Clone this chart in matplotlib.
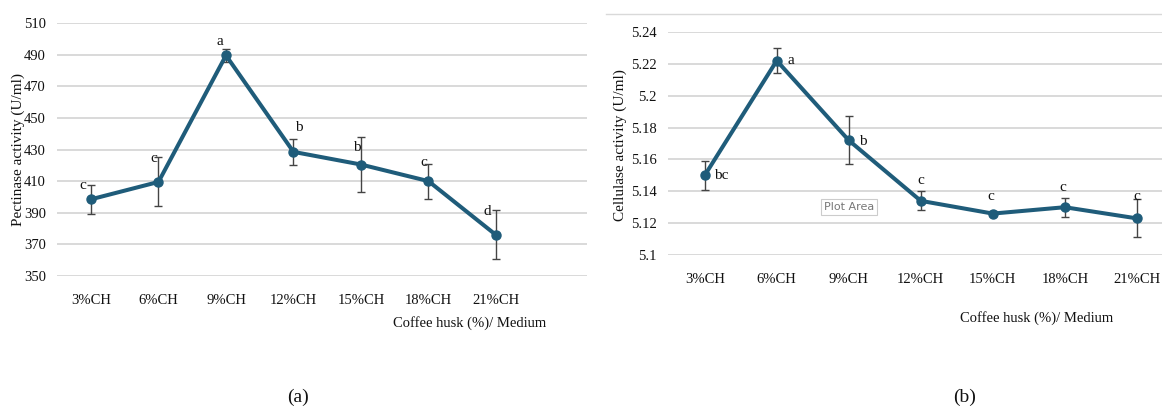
import matplotlib.pyplot as plt
from matplotlib.lines import Line2D
import numpy as np

plt.rcParams['font.family'] = ['Liberation Serif', 'DejaVu Serif']

# data
categories = ['3%CH', '6%CH', '9%CH', '12%CH', '15%CH', '18%CH', '21%CH']

pectinase = [398.5, 409.5, 489.5, 428.5, 420.5, 410, 376]
pectinase_err = [9, 15.5, 4, 8, 17.5, 11, 15.5]
pectinase_letters = ['c', 'c', 'a', 'b', 'b', 'c', 'd']

cellulase = [5.150, 5.222, 5.172, 5.134, 5.126, 5.130, 5.123]
cellulase_err = [0.009, 0.008, 0.015, 0.006, 0.0015, 0.006, 0.012]
cellulase_letters = ['bc', 'a', 'b', 'c', 'c', 'c', 'c']

pectinase_ticks = [350, 370, 390, 410, 430, 450, 470, 490, 510]
cellulase_ticks = [5.1, 5.12, 5.14, 5.16, 5.18, 5.2, 5.22, 5.24]
cellulase_ticklabels = ['5.1', '5.12', '5.14', '5.16', '5.18', '5.2', '5.22', '5.24']

# letter offsets in pixels (dx, dy) from the mean point
offsets_a = [(-8, 14), (-5, 23), (-6, 14), (5, 24), (-4, 17), (-5, 19), (-9, 23)]
offsets_b = [(17, 0), (14, 0), (14, -1), (0, 20), (-2, 17), (-2, 20), (0, 22)]

W, H = 1162, 411
line_color = '#1f5c7a'
grid_color = '#d9d9d9'
text_color = '#111111'

fig = plt.figure(figsize=(W / 100, H / 100), dpi=100)


def px_axes(x0, y0, x1, y1):
    # pixel box (top-left origin) -> figure axes
    return fig.add_axes([x0 / W, 1 - y1 / H, (x1 - x0) / W, (y1 - y0) / H])


def draw_panel(ax, values, errs, letters, offsets, yticks, yticklabels, xlim, ylim):
    x = np.arange(len(categories))
    ax.set_xlim(*xlim)
    ax.set_ylim(*ylim)
    ax.set_yticks(yticks)
    ax.set_yticklabels(yticklabels)
    ax.set_xticks(x)
    ax.set_xticklabels(categories)
    ax.tick_params(length=0, labelsize=10.5, colors=text_color)
    ax.tick_params(axis='y', pad=8)
    ax.tick_params(axis='x', pad=13)
    for s in ax.spines.values():
        s.set_visible(False)
    ax.grid(axis='y', color=grid_color, linewidth=1.4)
    ax.set_axisbelow(True)
    ax.errorbar(x, values, yerr=errs, fmt='none', ecolor='#444444',
                elinewidth=1.0, capsize=3, capthick=1.0, zorder=2, clip_on=False)
    ax.plot(x, values, color=line_color, linewidth=2.9, marker='o',
            markersize=6.5, zorder=3, clip_on=False)
    for xi, v, lab, (dx, dy) in zip(x, values, letters, offsets):
        ax.annotate(lab, (xi, v), xytext=(dx * 0.72, dy * 0.72),
                    textcoords='offset points', ha='center', va='center',
                    fontsize=11, color=text_color)


ax1 = px_axes(57, 23, 587, 276)
draw_panel(ax1, pectinase, pectinase_err, pectinase_letters, offsets_a,
           pectinase_ticks, [str(t) for t in pectinase_ticks],
           (-0.504, 7.35), (350, 510))

ax2 = px_axes(668, 32, 1162, 255)
draw_panel(ax2, cellulase, cellulase_err, cellulase_letters, offsets_b,
           cellulase_ticks, cellulase_ticklabels,
           (-0.51, 6.35), (5.1, 5.24))

# axis titles
fig.text(18 / W, 1 - 150 / H, 'Pectinase activity (U/ml)', rotation=90,
         ha='center', va='center', fontsize=11, color=text_color)
fig.text(620 / W, 1 - 145 / H, 'Cellulase activity (U/ml)', rotation=90,
         ha='center', va='center', fontsize=11, color=text_color)
fig.text(470 / W, 1 - 323 / H, 'Coffee husk (%)/ Medium',
         ha='center', va='center', fontsize=10.5, color=text_color)
fig.text(1037 / W, 1 - 318 / H, 'Coffee husk (%)/ Medium',
         ha='center', va='center', fontsize=10.5, color=text_color)

# panel letters
fig.text(298 / W, 1 - 397 / H, '(a)', ha='center', va='center', fontsize=14,
         color=text_color)
fig.text(965 / W, 1 - 397 / H, '(b)', ha='center', va='center', fontsize=14,
         color=text_color)

# chart border top of panel (b)
fig.add_artist(Line2D([606 / W, 1], [1 - 14 / H, 1 - 14 / H],
                      color=grid_color, linewidth=1.0))

# "Plot Area" tooltip
fig.text(849 / W, 1 - 207 / H, 'Plot Area', ha='center', va='center',
         fontsize=8, family='DejaVu Sans', color='#777777',
         bbox=dict(boxstyle='square,pad=0.3', facecolor='white',
                   edgecolor='#cccccc', linewidth=0.8))

fig.savefig('out.png', dpi=100)
